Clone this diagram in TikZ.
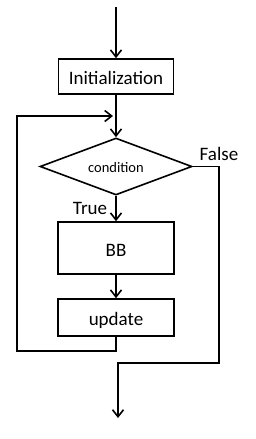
\documentclass[tikz,border=0pt]{standalone}
\usepackage{fontspec}
\setmainfont{Carlito}
\usetikzlibrary{arrows.meta,shapes.geometric}
\newcommand{\lowertext}[2]{\raisebox{-#1}[\height][\depth]{#2}}
\begin{document}
\begin{tikzpicture}[x=1pt,y=-1pt,
  line width=1.6pt,
  arr/.style={-{Straight Barb[length=7pt,width=11pt,line width=1.6pt]}},
  boxnode/.style={draw,rectangle,inner sep=0pt,font=\fontsize{19}{22}\selectfont},
  lbl/.style={font=\fontsize{19}{22}\selectfont,inner sep=0pt}]
\useasboundingbox (0,0) rectangle (255,439);
\coordinate (start) at (116,7);
\node[boxnode,minimum width=115pt,minimum height=35pt] (init) at (116,76.5) {\lowertext{1.5pt}{Initialization}};
\node[draw,diamond,aspect=2.67,inner sep=0pt,minimum width=152pt,minimum height=57pt,font=\fontsize{14.5}{17}\selectfont] (cond) at (116,166.5) {\lowertext{1.5pt}{condition}};
\node[boxnode,minimum width=116pt,minimum height=52pt] (bb) at (116,248) {\lowertext{2.5pt}{BB}};
\node[boxnode,minimum width=116pt,minimum height=37pt] (upd) at (116,317.5) {\lowertext{2.5pt}{update}};
\coordinate (join) at (116,116);
\coordinate (loopbl) at (17,351);
\coordinate (fr) at (219,363);
\coordinate (out) at (118,418);
\node[lbl] (false) at (219,154) {False};
\node[lbl] (true) at (90,208.5) {True};
\draw[arr] (start) -- (init.north);
\draw[arr] (init.south) -- (cond.north);
\draw[arr] (cond.south) -- (bb.north);
\draw[arr] (bb.south) -- (upd.north);
\draw[arr] (upd.south) |- (loopbl) |- ([xshift=-3pt]join);
\draw[arr] (cond.east) -| (fr) -| (out);
\end{tikzpicture}
\end{document}
